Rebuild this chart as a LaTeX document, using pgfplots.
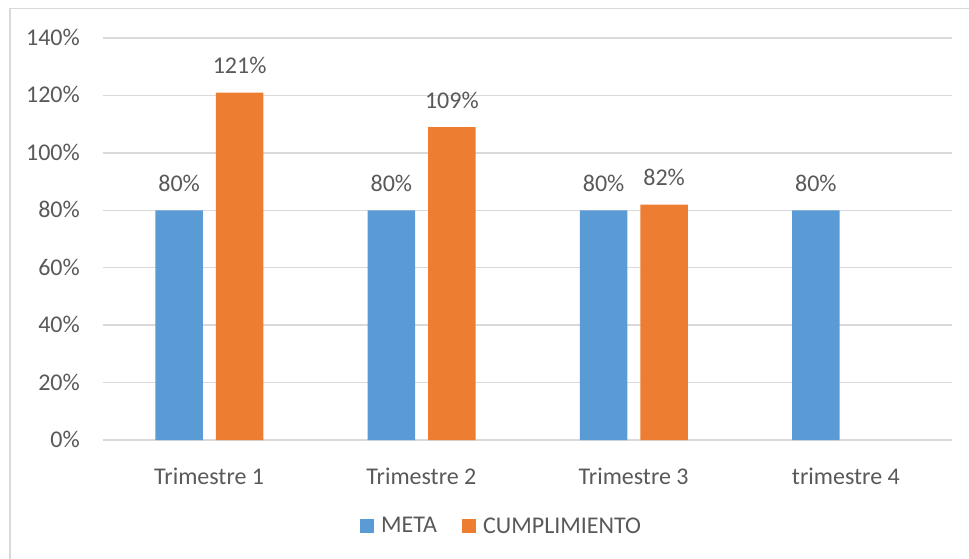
\documentclass[border=0pt]{standalone}
\usepackage{pgfplots}
\pgfplotsset{compat=1.18}
\usepackage{fontspec}
\setmainfont{Carlito}
\definecolor{metablue}{HTML}{5B9BD5}
\definecolor{cumporange}{HTML}{ED7D31}
\definecolor{gridgray}{HTML}{D9D9D9}
\definecolor{txtgray}{HTML}{595959}
\newcommand{\chartfont}{\fontsize{24}{28}\selectfont}
\begin{document}
\begin{tikzpicture}
\useasboundingbox (0pt,0pt) rectangle (969pt,-559pt);
\draw[gridgray, line width=1.5pt] (10pt,-600pt) -- (10pt,-8.5pt) -- (1000pt,-8.5pt);
\begin{axis}[
  at={(103pt,-440pt)}, anchor=south west,
  scale only axis, width=849pt, height=402pt,
  ybar,
  xmin=-0.5, xmax=3.5, ymin=0, ymax=140,
  axis line style={draw=none},
  tick style={draw=none},
  ytick={0,20,...,140},
  ymajorgrids, grid style={gridgray, line width=1.5pt},
  xtick={0,1,2,3},
  xticklabels={Trimestre 1,Trimestre 2,Trimestre 3,trimestre 4},
  yticklabel={\pgfmathprintnumber[assume math mode=true]{\tick}\%},
  yticklabel style={anchor=base east, inner sep=0pt, xshift=-23pt, yshift=-7.5pt, font=\chartfont, text=txtgray},
  xticklabel style={anchor=base, inner sep=0pt, yshift=-40pt, font=\chartfont, text=txtgray},
  bar width=47.5pt,
  nodes near coords={\pgfmathprintnumber[assume math mode=true]{\pgfplotspointmeta}\%},
  every node near coord/.append style={font=\chartfont, text=txtgray, inner sep=0pt, anchor=base, yshift=19pt},
  legend columns=2,
  legend style={draw=none, fill=none, inner sep=0pt, at={(0.3027,-0.2139)}, anchor=west,
    font=\chartfont, text=txtgray, nodes={inner sep=0pt},
    /tikz/every odd column/.append style={column sep=7pt},
    /tikz/every even column/.append style={column sep=25pt}},
  legend image code/.code={\fill[#1] (0pt,-7pt) rectangle (14pt,7pt);},
]
\addplot[bar shift=-30pt, fill=metablue, draw=none] coordinates {(0,80) (1,80) (2,80) (3,80)};
\addlegendentry{META}
\addplot[bar shift=30.5pt, fill=cumporange, draw=none] coordinates {(0,121) (1,109) (2,82)};
\addlegendentry{CUMPLIMIENTO}
\end{axis}
\end{tikzpicture}
\end{document}
